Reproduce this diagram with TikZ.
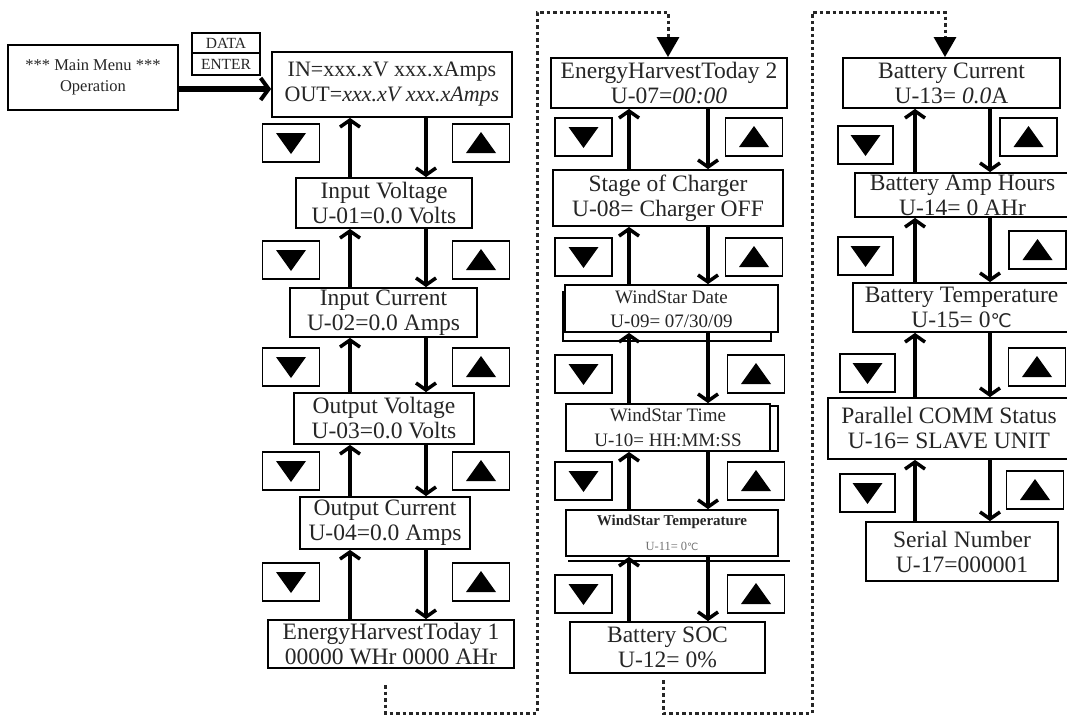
\documentclass[tikz,border=0pt]{standalone}
\usepackage{fontspec}
\setmainfont{Liberation Serif}
\newfontfamily\symf{DejaVu Sans}
\usetikzlibrary{arrows.meta}
\newcommand{\degc}{{\symf\fontsize{0.8em}{1em}\selectfont ℃}}
\begin{document}
\begin{tikzpicture}[x=1pt,y=-1pt,
  box/.style={draw, line width=1.8pt, inner sep=0pt, align=center, text=black!85,
    font=\fontsize{23.5}{25}\selectfont},
  smallbox/.style={box, font=\fontsize{16.5}{21}\selectfont},
  btn/.style={draw, line width=1.8pt, minimum width=57pt, minimum height=38pt, inner sep=0pt},
  dnbtn/.style={btn, path picture={\fill ([shift={(-15pt,10pt)}]path picture bounding box.center) -- ++(30pt,0pt) -- ++(-15pt,-21pt) -- cycle;}},
  upbtn/.style={btn, path picture={\fill ([shift={(-15pt,-10pt)}]path picture bounding box.center) -- ++(30pt,0pt) -- ++(-15pt,21pt) -- cycle;}},
  arr/.style={line width=4.5pt, -{Straight Barb[length=7pt,width=20pt,line width=3.5pt]}},
  dotl/.style={line width=3pt, dash pattern=on 3.5pt off 3pt, black!85, -{Triangle[length=20pt,width=22pt,color=black]}}
]
\useasboundingbox[fill=white] (0,0) rectangle (1067,716);

% ---------- top-left ----------
\node[smallbox, minimum width=170, minimum height=65] (menu) at (93,77.5) {*** Main Menu ***\\Operation};
\node[smallbox, font=\fontsize{15.5}{16}\selectfont, minimum width=68, minimum height=20] (data) at (226,43) {DATA};
\node[smallbox, font=\fontsize{15.5}{16}\selectfont, minimum width=68, minimum height=22] (enter) at (226,64) {ENTER};

% ---------- column 1 ----------
\node[box, font=\fontsize{22}{25}\selectfont, minimum width=240, minimum height=65] (in) at (392,84.5) {IN=xxx.xV xxx.xAmps\\OUT=\textit{xxx.xV xxx.xAmps}};
\node[box, minimum width=176, minimum height=50] (iv) at (384,203) {Input Voltage\\U-01=0.0 Volts};
\node[box, minimum width=187, minimum height=49] (ic) at (383.5,312.5) {Input Current\\U-02=0.0 Amps};
\node[box, minimum width=180, minimum height=51] (ov) at (384,418.5) {Output Voltage\\U-03=0.0 Volts};
\node[box, minimum width=170, minimum height=52] (oc) at (385,523) {Output Current\\U-04=0.0 Amps};
\node[box, minimum width=246, minimum height=48] (e1) at (391,644) {EnergyHarvestToday 1\\00000 WHr 0000 AHr};

\node[dnbtn] (d11) at (291,143) {};
\node[dnbtn] (d12) at (291,260) {};
\node[dnbtn] (d13) at (291,367) {};
\node[dnbtn] (d14) at (291,471) {};
\node[dnbtn] (d15) at (291,582) {};
\node[upbtn] (u11) at (481,143) {};
\node[upbtn] (u12) at (481,260) {};
\node[upbtn] (u13) at (481,367) {};
\node[upbtn] (u14) at (481,471) {};
\node[upbtn] (u15) at (481,582) {};

\coordinate (a1u) at (350,0);
\coordinate (a1d) at (426,0);
\coordinate (ya) at (0,89);
\draw[line width=6pt, -{Straight Barb[length=8pt,width=22pt,line width=4pt]}] (menu.east |- ya) -- (in.west |- ya);

\foreach \lo/\hi in {iv/in, ic/iv, ov/ic, oc/ov, e1/oc}{
  \draw[arr] (\lo.north -| a1u) -- (\hi.south -| a1u);
  \draw[arr] (\hi.south -| a1d) -- (\lo.north -| a1d);
}

% ---------- column 2 ----------
\node[box, minimum width=236, minimum height=50] (e2) at (669,83) {EnergyHarvestToday 2\\U-07=\textit{00:00}};
\node[box, minimum width=230, minimum height=56] (sc) at (668,198) {Stage of Charger\\U-08= Charger OFF};
\draw[line width=1.5pt] (563,292) rectangle (771,341);
\node[box, fill=white, font=\fontsize{19}{24}\selectfont, minimum width=213, minimum height=47] (wd) at (671.5,308.5) {WindStar Date\\U-09= 07/30/09};
\node[box, font=\fontsize{19}{25}\selectfont, minimum width=204, minimum height=47] (wt) at (668,427.5) {WindStar Time\\U-10= HH:MM:SS};
\draw[line width=1.5pt] (770,406) -- (778,406) -- (778,451) -- (770,451);
\node[box, minimum width=212, minimum height=46] (wtp) at (672,533) {{\fontsize{15}{20}\selectfont\bfseries WindStar Temperature}\\{\fontsize{12.5}{16}\selectfont\color{black!55}U-11= 0\degc}};
\draw[line width=1.5pt] (568,561) -- (790,561);
\node[box, minimum width=195, minimum height=51] (soc) at (667.5,647.5) {Battery SOC\\U-12= 0\%};

\node[dnbtn] (d21) at (583.5,137) {};
\node[dnbtn] (d22) at (583.5,257) {};
\node[dnbtn] (d23) at (583.5,374) {};
\node[dnbtn] (d24) at (583.5,481) {};
\node[dnbtn] (d25) at (583.5,594) {};
\node[upbtn] (u21) at (754,137) {};
\node[upbtn] (u22) at (754,257) {};
\node[upbtn] (u23) at (756,374) {};
\node[upbtn] (u24) at (756,481) {};
\node[upbtn] (u25) at (756,594) {};

\coordinate (a2u) at (629,0);
\coordinate (a2d) at (708,0);
\foreach \lo/\hi in {sc/e2, wd/sc, wt/wd, wtp/wt, soc/wtp}{
  \draw[arr] (\lo.north -| a2u) -- (\hi.south -| a2u);
  \draw[arr] (\hi.south -| a2d) -- (\lo.north -| a2d);
}

% ---------- column 3 ----------
\node[box, minimum width=217, minimum height=50] (bc) at (951.5,83) {Battery Current\\U-13= \textit{0.0}A};
\node[box, minimum width=215, minimum height=44] (bah) at (962.5,195) {Battery Amp Hours\\U-14= 0 AHr};
\node[box, minimum width=217, minimum height=49] (bt) at (961.5,307.5) {Battery Temperature\\U-15= 0\degc};
\node[box, minimum width=242, minimum height=61] (pc) at (949,428.5) {Parallel COMM Status\\U-16= SLAVE UNIT};
\node[box, minimum width=192, minimum height=59] (sn) at (962,551.5) {Serial Number\\U-17=000001};

\node[dnbtn, minimum width=55] (d31) at (865.5,145) {};
\node[dnbtn, minimum width=55] (d32) at (865.5,256) {};
\node[dnbtn, minimum width=55] (d33) at (867.5,373) {};
\node[dnbtn, minimum width=55] (d34) at (867.5,493) {};
\node[upbtn] (u31) at (1028.5,137) {};
\node[upbtn] (u32) at (1037.5,250) {};
\node[upbtn] (u33) at (1037,367) {};
\node[upbtn] (u34) at (1035,490) {};

\coordinate (a3u) at (915,0);
\coordinate (a3d) at (990,0);
\foreach \lo/\hi in {bah/bc, bt/bah, pc/bt, sn/pc}{
  \draw[arr] (\lo.north -| a3u) -- (\hi.south -| a3u);
  \draw[arr] (\hi.south -| a3d) -- (\lo.north -| a3d);
}

% ---------- dotted links ----------
\coordinate (p1a) at (385,685);
\coordinate (p1b) at (385,713);
\coordinate (p1c) at (537,713);
\coordinate (p1d) at (537,12);
\coordinate (p1e) at (668,12);
\draw[dotl] (p1a) -- (p1b) -- (p1c) -- (p1d) -- (p1e) -- (p1e |- e2.north);

\coordinate (p2a) at (663,680);
\coordinate (p2b) at (663,713);
\coordinate (p2c) at (812,713);
\coordinate (p2d) at (812,12);
\coordinate (p2e) at (945,12);
\draw[dotl] (p2a) -- (p2b) -- (p2c) -- (p2d) -- (p2e) -- (p2e |- bc.north);
\end{tikzpicture}
\end{document}
